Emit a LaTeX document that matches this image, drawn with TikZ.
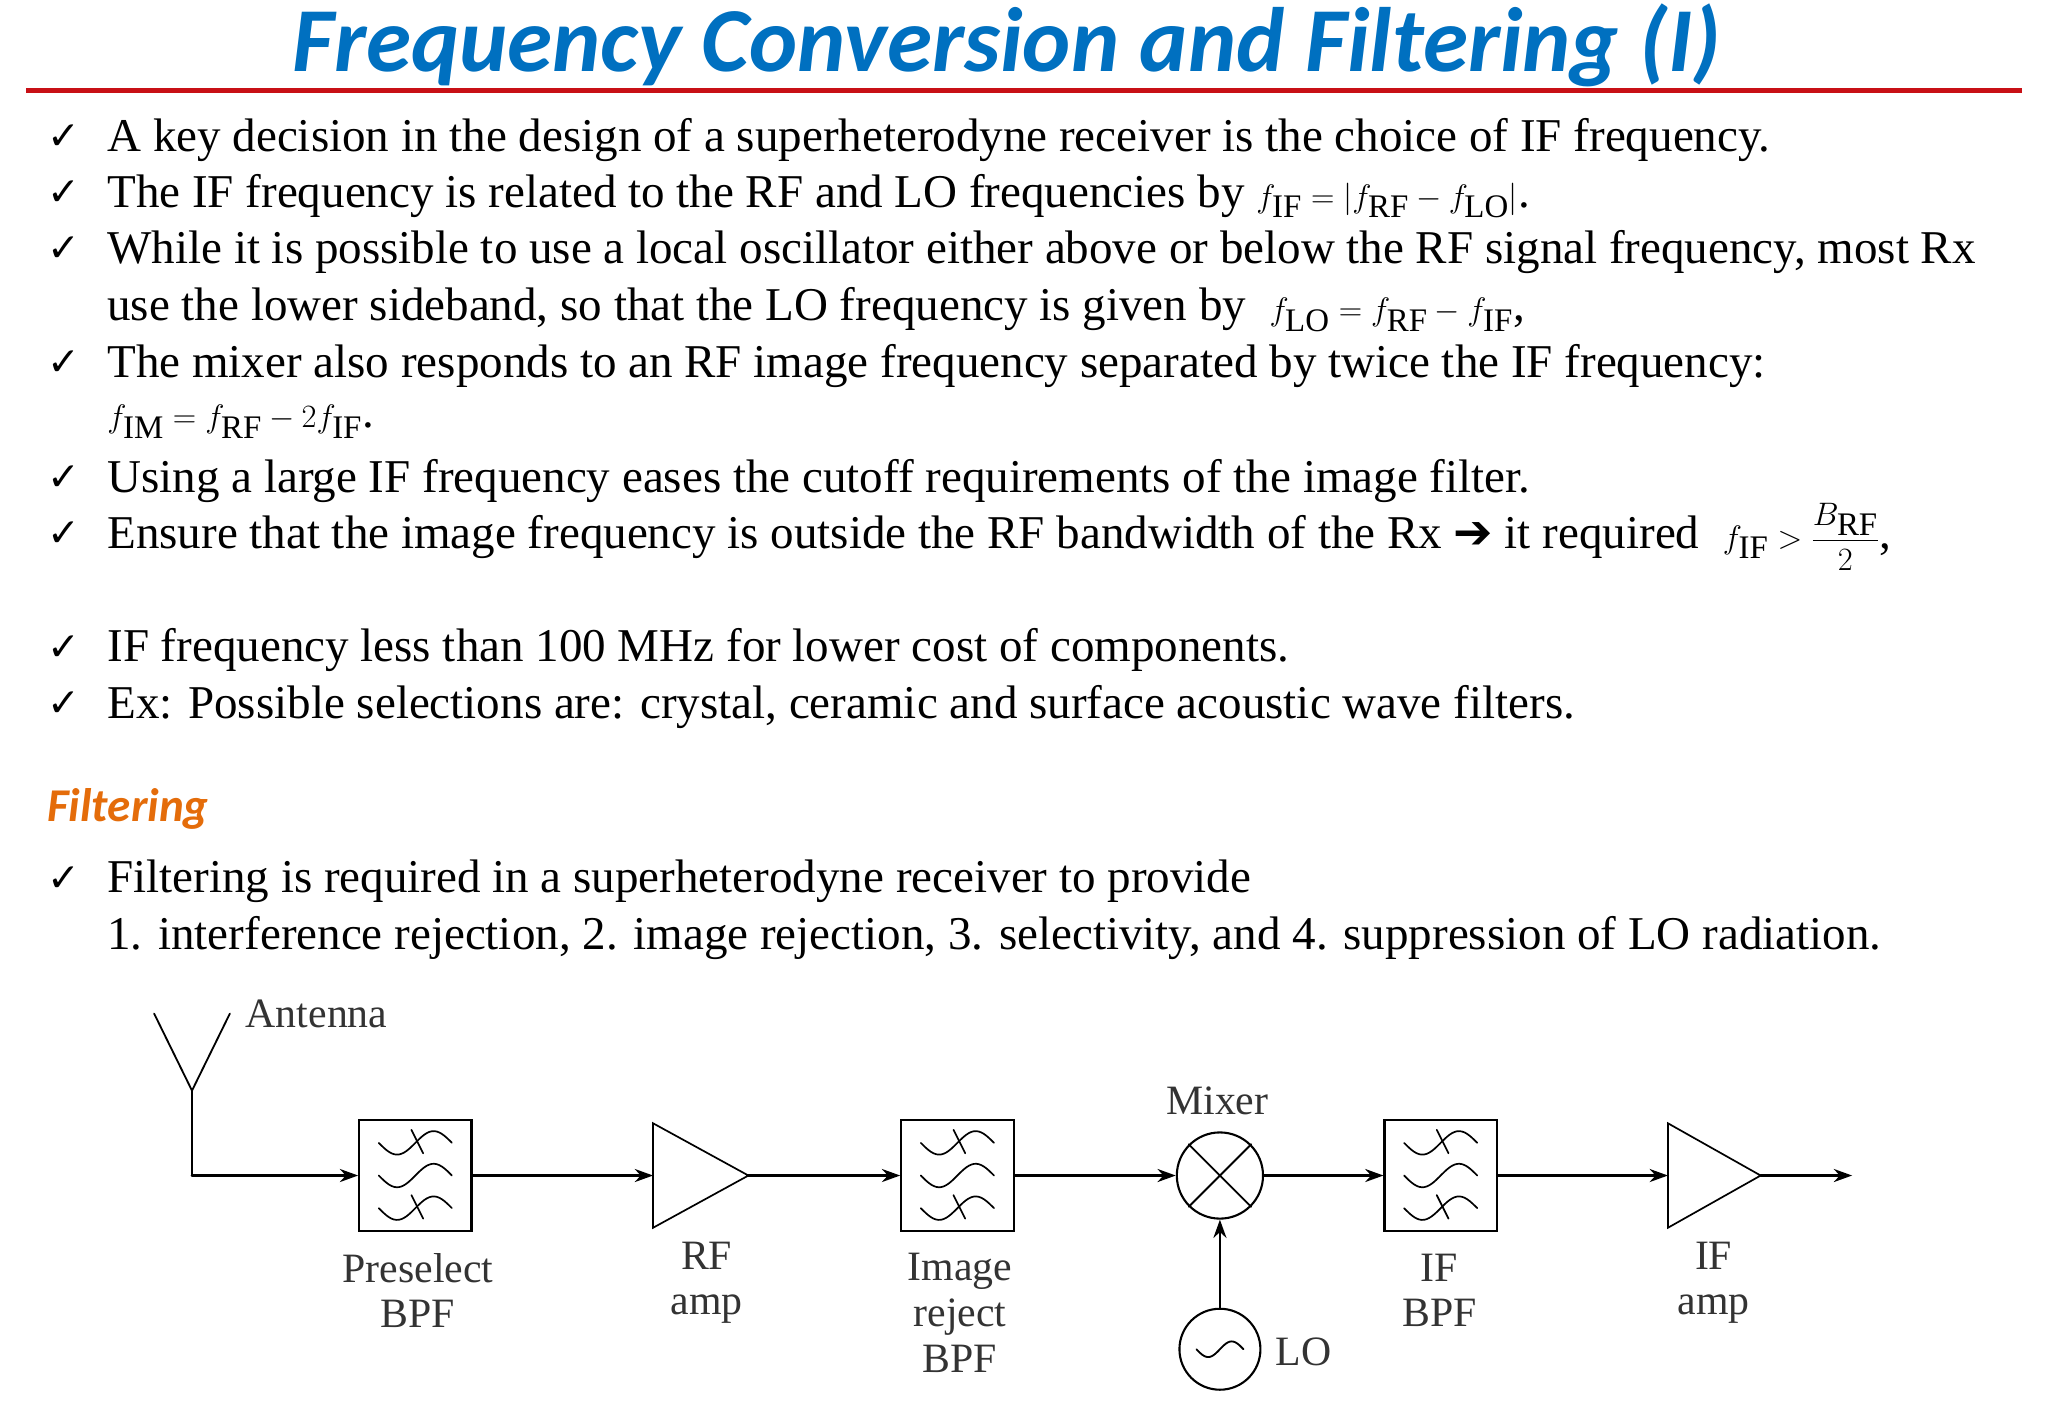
\documentclass[tikz,border=0pt]{standalone}
\usepackage{amsmath}
\usepackage{fontspec}
\setmainfont{Liberation Serif}
\newfontfamily\calfont{Carlito}
\newfontfamily\dv{DejaVu Sans}
\usetikzlibrary{arrows.meta}
\definecolor{tblue}{RGB}{0,112,192}
\definecolor{tred}{RGB}{200,16,22}
\definecolor{torange}{RGB}{228,108,10}
\begin{document}
\begin{tikzpicture}[x=1pt,y=-1pt,
  body/.style={anchor=west,inner sep=0,font=\fontsize{36}{42}\selectfont},
  chk/.style={anchor=west,inner sep=0,font=\dv\bfseries\fontsize{30}{36}\selectfont},
  lab/.style={align=center,inner sep=0,font=\fontsize{32}{35}\selectfont,text=black!80},
  wire/.style={line width=2pt,-{Stealth[length=14pt,width=10pt]}},
  box/.style={draw,line width=1.6pt,minimum width=86pt,minimum height=85pt,inner sep=0},
  amp/.style={draw,line width=1.3pt},
  every path/.style={line cap=round}]
\useasboundingbox (0,0) rectangle (1568,1086);
\node[inner sep=0,font=\calfont\bfseries\itshape\fontsize{70}{76}\selectfont,text=tblue] (title) at (771,35) {Frequency Conversion and Filtering (I)};
\draw[tred,line width=4pt,line cap=butt] (20,69) -- (1548,69);
\foreach \y in {107,150,193,280,368,411,498,541,675}{\node[chk] at (36,\y-2) {✓};}
\node[body] (b1) at (82,107) {A key decision in the design of a superheterodyne receiver is the choice of IF frequency.};
\node[body] (b2) at (82,150) {The IF frequency is related to the RF and LO frequencies by $f_{\mathrm{IF}}=|f_{\mathrm{RF}}-f_{\mathrm{LO}}|$.};
\node[body] (b3) at (82,193) {While it is possible to use a local oscillator either above or below the RF signal frequency, most Rx};
\node[body] (b3b) at (82,237) {use the lower sideband, so that the LO frequency is given by \ $f_{\mathrm{LO}}=f_{\mathrm{RF}}-f_{\mathrm{IF}}$,};
\node[body] (b4) at (82,280) {The mixer also responds to an RF image frequency separated by twice the IF frequency:};
\node[body] (b4b) at (82,323) {$f_{\mathrm{IM}}=f_{\mathrm{RF}}-2f_{\mathrm{IF}}$.};
\node[body] (b5) at (82,368) {Using a large IF frequency eases the cutoff requirements of the image filter.};
\node[body] (b6) at (82,411) {Ensure that the image frequency is outside the RF bandwidth of the Rx {\dv ➔} it required \ $f_{\mathrm{IF}}>\dfrac{B_{\mathrm{RF}}}{2}$,};
\node[body] (b7) at (82,498) {IF frequency less than 100 MHz for lower cost of components.};
\node[body] (b8) at (82,541) {Ex: Possible selections are: crystal, ceramic and surface acoustic wave filters.};
\node[anchor=west,inner sep=0,font=\calfont\bfseries\itshape\fontsize{36}{40}\selectfont,text=torange] (filt) at (36,619) {Filtering};
\node[body] (b9) at (82,675) {Filtering is required in a superheterodyne receiver to provide};
\node[body] (b9b) at (82,718) {1. interference rejection, 2. image rejection, 3. selectivity, and 4. suppression of LO radiation.};
% diagram
\coordinate (a1) at (118,776); \coordinate (a2) at (147,835); \coordinate (a3) at (176,776);
\coordinate (corner) at (147,900);
\draw[line width=1.4pt] (a1) -- (a2) -- (a3);
\node[lab,anchor=west] (ant) at (188,776) {Antenna};
\node[box] (f1) at (318,900) {};
\node[box] (f2) at (733,900) {};
\node[box] (f3) at (1103,900) {};
\foreach \f in {f1,f2,f3}{
  \foreach \dy/\s in {-25/1,0/0,25/1}{
    \draw[line width=1.3pt] plot[domain=0:1,samples=30,smooth] ([xshift={(\x-0.5)*56pt},yshift={-9*sin(360*\x)*1pt+\dy*1pt}]\f.center);
    \ifnum\s=1 \draw[line width=1.3pt] ([xshift=-3pt,yshift={\dy*1pt+10pt}]\f.center) -- ([xshift=6pt,yshift={\dy*1pt-8pt}]\f.center);\fi
  }}
\draw[amp,fill=white] (500,860) -- (573,900) -- (500,940) -- cycle;
\coordinate (rfin) at (500,900); \coordinate (rfout) at (573,900);
\draw[amp,fill=white] (1277,860) -- (1348,900) -- (1277,940) -- cycle;
\coordinate (ifin) at (1277,900); \coordinate (ifout) at (1348,900); \coordinate (out) at (1418,900);
\node[draw,circle,line width=1.6pt,minimum size=66pt,inner sep=0] (mix) at (934,900) {};
\draw[line width=1.4pt] (mix.north west) -- (mix.south east) (mix.north east) -- (mix.south west);
\node[draw,circle,line width=1.6pt,minimum size=62pt,inner sep=0] (lo) at (934,1033) {};
\draw[line width=1.4pt] plot[domain=0:1,samples=25,smooth] ([xshift={(\x-0.5)*36pt},yshift={-6*sin(360*\x)*1pt}]lo.center);
\draw[line width=2pt] (a2) -- (corner);
\draw[wire] (corner) -- (f1);
\draw[wire] (f1) -- (rfin);
\draw[wire] (rfout) -- (f2);
\draw[wire] (f2) -- (mix);
\draw[wire] (mix) -- (f3);
\draw[wire] (f3) -- (ifin);
\draw[wire] (ifout) -- (out);
\draw[wire] (lo) -- (mix);
\node[lab] (l1) at (320,988) {Preselect\\BPF};
\node[lab] (l2) at (541,982) {RF\\amp};
\node[lab] (l3) at (735,1005) {Image\\reject\\BPF};
\node[lab] (l4) at (1102,988) {IF\\BPF};
\node[lab] (l5) at (1312,982) {IF\\amp};
\node[lab] (l6) at (932,843) {Mixer};
\node[lab] (l7) at (998,1035) {LO};
\end{tikzpicture}
\end{document}
